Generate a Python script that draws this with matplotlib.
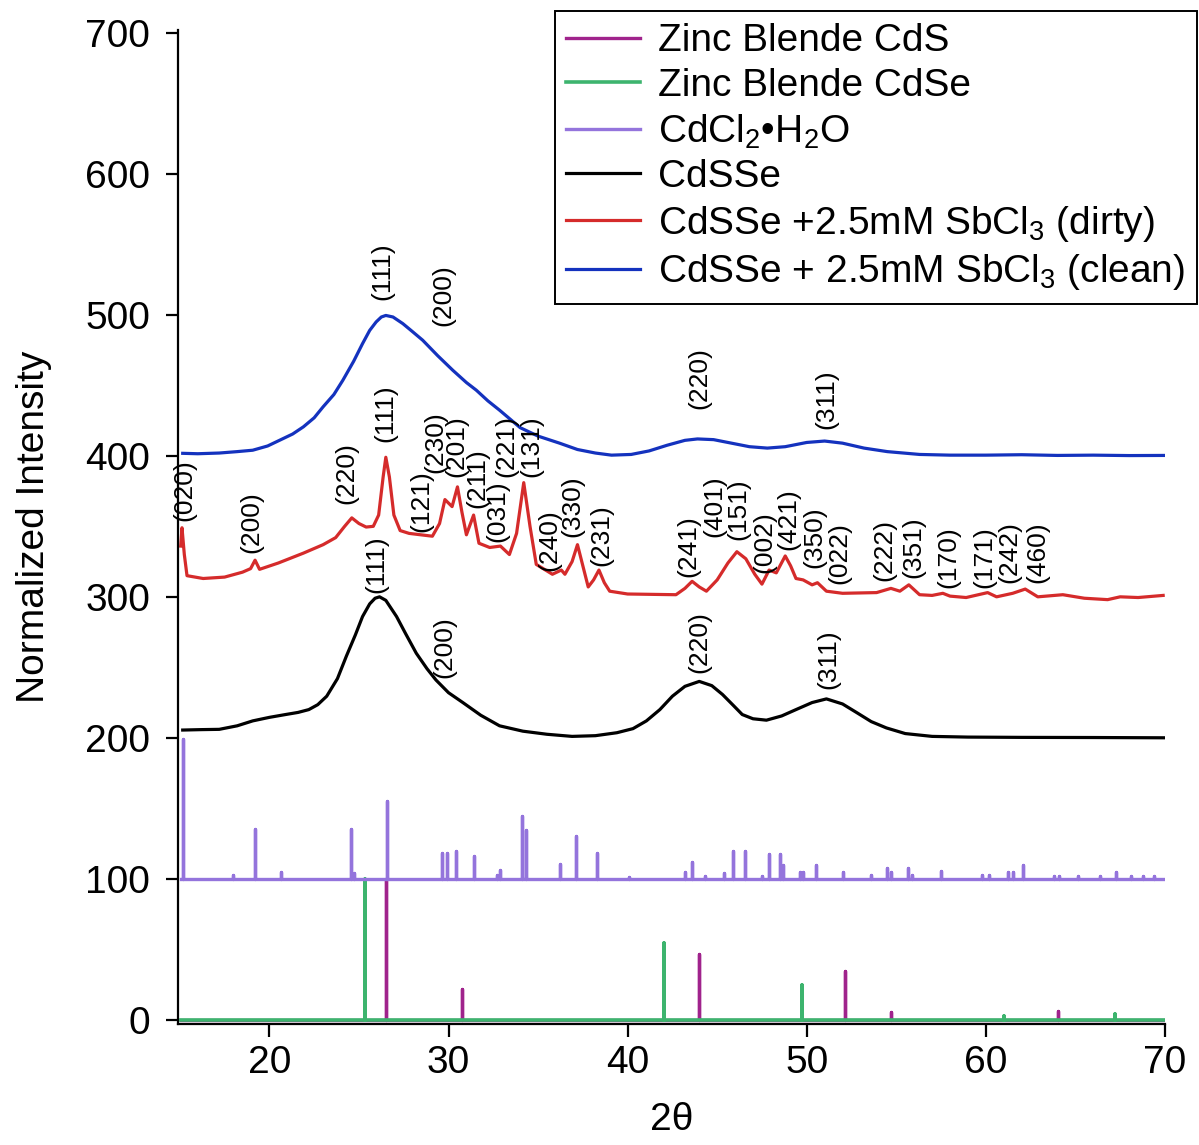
import numpy as np
import matplotlib.pyplot as plt

plt.rcParams['font.family'] = ['Liberation Sans', 'DejaVu Sans']
plt.rcParams['mathtext.fontset'] = 'custom'
plt.rcParams['mathtext.rm'] = 'Liberation Sans'
plt.rcParams['mathtext.it'] = 'Liberation Sans:italic'
plt.rcParams['mathtext.bf'] = 'Liberation Sans:bold'

# ---- reference stick patterns (2theta, relative intensity) ----
cds_pos = [26.5, 30.74, 44.0, 52.15, 54.7, 64.05]
cds_int = [100, 22, 46.7, 34.9, 5.4, 6.1]

cdse_pos = [25.35, 42.03, 49.75, 61.03, 67.2]
cdse_int = [100, 54.5, 24.8, 2.4, 4.2]

cdcl2_pos = [15.16, 17.95, 19.2, 20.65, 24.56, 24.7, 26.55, 29.63, 29.93, 30.43,
             31.41, 32.7, 32.88, 34.1, 34.3, 36.24, 37.13, 38.3, 40.06, 43.18,
             43.6, 44.3, 45.4, 45.88, 46.54, 47.5, 47.9, 48.5, 48.7, 49.6,
             49.8, 50.5, 52.0, 53.6, 54.5, 54.7, 55.66, 55.9, 57.5, 59.76,
             60.2, 61.25, 61.5, 62.05, 63.8, 64.1, 65.16, 66.4, 67.26, 68.1,
             68.8, 69.4]
cdcl2_int = [99.3, 2.4, 35.6, 4.7, 35.6, 4, 55.4, 18.2, 18, 20,
             16, 3, 6.3, 44.5, 34.7, 10.8, 30, 18, 1.2, 4.7,
             11.6, 1.7, 3.8, 19.8, 19.8, 1.9, 17.7, 17.7, 9.7, 4.7,
             4.7, 10, 4.9, 3, 7.4, 5, 7.4, 3, 5.7, 3,
             3, 5, 5, 10, 1.9, 1.9, 1.9, 1.9, 5, 1.9,
             1.9, 1.9]

# ---- measured patterns (already offset as plotted) ----
cdsse_x = [15.16, 16.2, 17.2, 18.2, 19.07, 20.0, 20.9, 21.6, 22.2, 22.7,
           23.2, 23.8, 24.3, 24.8, 25.2, 25.6, 25.9, 26.15, 26.5, 27.1,
           27.6, 28.2, 28.8, 29.3, 30.0, 30.8, 31.8, 32.85, 34.15, 35.5,
           36.9, 38.2, 39.4, 40.3, 41.05, 41.8, 42.5, 43.2, 44.0, 44.7,
           45.3, 45.9, 46.4, 47.0, 47.75, 48.6, 49.4, 50.3, 51.1, 52.0,
           52.8, 53.6, 54.45, 55.5, 57.0, 59.0, 62.0, 66.0, 70.0]
cdsse_y = [205.5, 205.8, 206, 208.5, 212, 214.5, 216.5, 218, 220, 223.5,
           229.5, 242, 258, 273, 286, 295, 299, 300, 297.5, 286,
           274, 260, 249, 241, 232, 225, 216, 208.5, 204.7, 202.5,
           201, 201.5, 203.6, 206.5, 212, 220, 229.5, 236.5, 240, 237,
           230.7, 223, 216.5, 213.5, 212.5, 215.5, 220, 225, 227.6, 224,
           217.8, 211.5, 207, 203, 201, 200.5, 200.3, 200.2, 200]

dirty_x = [15.05, 15.12, 15.25, 15.4, 16.3, 17.5, 18.5, 18.95, 19.2, 19.45,
           20.5, 21.9, 23.0, 23.7, 24.2, 24.6, 25.0, 25.4, 25.8, 26.1,
           26.35, 26.5, 26.7, 26.95, 27.3, 27.8, 29.1, 29.5, 29.8, 30.2,
           30.5, 30.75, 31.0, 31.4, 31.7, 32.3, 32.9, 33.4, 33.8, 34.2,
           34.55, 34.9, 35.8, 36.3, 36.5, 36.9, 37.2, 37.5, 37.8, 38.1,
           38.4, 38.7, 39.0, 40.0, 42.7, 43.2, 43.6, 44.0, 44.4, 45.0,
           45.6, 46.1, 46.6, 47.1, 47.5, 47.9, 48.3, 48.8, 49.1, 49.4,
           49.8, 50.3, 50.6, 51.1, 52.0, 53.9, 54.7, 55.2, 55.7, 56.3,
           57.0, 57.6, 58.0, 58.9, 60.1, 60.6, 61.5, 62.2, 62.9, 64.3,
           65.5, 66.8, 67.5, 68.5, 69.9]
dirty_y = [336, 349, 330, 315, 313, 314, 317.5, 320, 326, 319.5,
           324, 331, 337, 342, 350, 356, 352, 349.5, 350, 358,
           385, 399, 385, 358, 347, 345, 343, 352, 369, 364,
           378, 360, 344, 358, 338, 335, 336, 330, 345, 381,
           350, 323, 316, 319, 316, 325, 337, 322, 307, 312,
           319, 310, 304, 302, 301.5, 306, 311, 307, 304, 312,
           324, 332, 327, 316, 309, 319, 317, 329, 322, 313,
           312, 308.5, 310, 304, 302.5, 303, 306, 304, 308.5, 301.5,
           301, 302.5, 300.5, 299.5, 303, 300, 302.5, 305.5, 300, 301.5,
           299, 298, 300, 299.5, 301]

clean_x = [15.16, 16.0, 17.2, 18.2, 19.07, 19.9, 20.56, 21.3, 21.9, 22.5,
           23.0, 23.6, 24.1, 24.7, 25.2, 25.6, 25.96, 26.25, 26.5, 26.9,
           27.45, 28.0, 28.56, 29.4, 30.24, 31.0, 31.55, 32.2, 32.85, 34.0,
           35.0, 36.2, 37.2, 38.2, 39.1, 40.2, 41.2, 42.2, 43.2, 43.9,
           44.8, 45.8, 46.8, 47.8, 48.8, 50.0, 51.0, 52.0, 53.2, 54.5,
           56.3, 58.0, 60.0, 62.0, 64.0, 66.0, 68.0, 70.0]
clean_y = [401.8, 401.5, 402, 403, 404, 407, 411, 415.5, 420.6, 427,
           434.8, 443.5, 453.6, 467, 479.6, 489, 495, 498.5, 499.6, 498.5,
           493.8, 488, 482, 471, 460.7, 452, 446.6, 439, 432.4, 420,
           414, 409, 404.5, 402, 400.5, 401, 403.5, 407.5, 411, 412,
           411.5, 409, 406.5, 405.5, 406.5, 409.5, 410.5, 409, 405.5, 403,
           401, 400.5, 400.5, 400.8, 400.3, 400.5, 400.2, 400.3]

# ---- hkl annotations ----
clean_hkl = ['(111)', '(200)', '(220)', '(311)']
clean_hkl_xy = [(26.33, 531), (29.7, 514), (44.0, 455), (51.1, 440)]

dirty_hkl = ['(020)', '(200)', '(220)', '(111)', '(121)', '(230)', '(201)',
             '(211)', '(031)', '(221)', '(131)', '(240)', '(330)', '(231)',
             '(241)', '(401)', '(151)', '(002)', '(421)', '(350)', '(022)',
             '(222)', '(351)', '(170)', '(171)', '(242)', '(460)']
dirty_hkl_xy = [(15.25, 376), (18.98, 353), (24.3, 388), (26.5, 430),
                (28.47, 368), (29.25, 410), (30.45, 407), (31.6, 384),
                (32.75, 361), (33.25, 407), (34.62, 407), (35.64, 340),
                (36.94, 364), (38.53, 344), (43.37, 336), (44.86, 364),
                (46.16, 362), (47.65, 339), (48.95, 355), (50.45, 342),
                (51.84, 331), (54.36, 333), (55.94, 335), (57.9, 328),
                (59.94, 328), (61.34, 332), (62.9, 332)]

cdsse_hkl = ['(111)', '(200)', '(220)', '(311)']
cdsse_hkl_xy = [(25.96, 323), (29.78, 264.5), (44.0, 268), (51.2, 255.5)]

labels = ['Zinc Blende CdS', 'Zinc Blende CdSe', 'CdCl$_2$\u2022H$_2$O', 'CdSSe',
          'CdSSe +2.5mM SbCl$_3$ (dirty)', 'CdSSe + 2.5mM SbCl$_3$ (clean)']


def stick_trace(pos, heights, base, x0=15.07, x1=70.0):
    xs, ys = [x0], [base]
    for p, h in zip(pos, heights):
        xs += [p, p, p]
        ys += [base, base + h, base]
    xs.append(x1)
    ys.append(base)
    return np.array(xs), np.array(ys)


fig = plt.figure(figsize=(11.99, 11.45), dpi=100)
ax = fig.add_axes([0.1485, 0.1057, 0.8231, 0.868])

sx, sy = stick_trace(cds_pos, cds_int, 0)
ax.plot(sx, sy, color='#A0238C', lw=2.4, label=labels[0])
sx, sy = stick_trace(cdse_pos, cdse_int, 0)
ax.plot(sx, sy, color='#3DB46E', lw=2.6, label=labels[1])
sx, sy = stick_trace(cdcl2_pos, cdcl2_int, 100)
ax.plot(sx, sy, color='#9474DC', lw=2.4, label=labels[2])
ax.plot(cdsse_x, cdsse_y, color='black', lw=2.3, label=labels[3])
ax.plot(dirty_x, dirty_y, color='#D52B2B', lw=2.3, label=labels[4])
ax.plot(clean_x, clean_y, color='#1432BE', lw=2.3, label=labels[5])

for txts, xys in [(clean_hkl, clean_hkl_xy), (dirty_hkl, dirty_hkl_xy),
                  (cdsse_hkl, cdsse_hkl_xy)]:
    for t, (x, y) in zip(txts, xys):
        ax.text(x, y, t, rotation=90, ha='center', va='center', fontsize=19)

ax.set_xlim(14.9, 70)
ax.set_ylim(-3, 702)
ax.set_xticks([20, 30, 40, 50, 60, 70])
ax.set_yticks(range(0, 701, 100))
ax.spines['top'].set_visible(False)
ax.spines['right'].set_visible(False)
for s in ['left', 'bottom']:
    ax.spines[s].set_linewidth(1.6)
ax.tick_params(labelsize=28, length=9, width=1.6)
ax.tick_params(axis='y', pad=11)
ax.tick_params(axis='x', pad=6)
ax.set_xlabel('2\u03b8', fontsize=28, labelpad=15)
ax.set_ylabel('Normalized Intensity', fontsize=28, labelpad=24)

leg = ax.legend(loc='upper right', bbox_to_anchor=(0.998, 0.99),
                bbox_transform=fig.transFigure, fontsize=28, frameon=True,
                fancybox=False, edgecolor='black', framealpha=1,
                borderaxespad=0, handlelength=1.9, handletextpad=0.45,
                labelspacing=0.22, borderpad=0.3)
leg.get_frame().set_linewidth(1.4)

fig.savefig('out.png', dpi=100)
